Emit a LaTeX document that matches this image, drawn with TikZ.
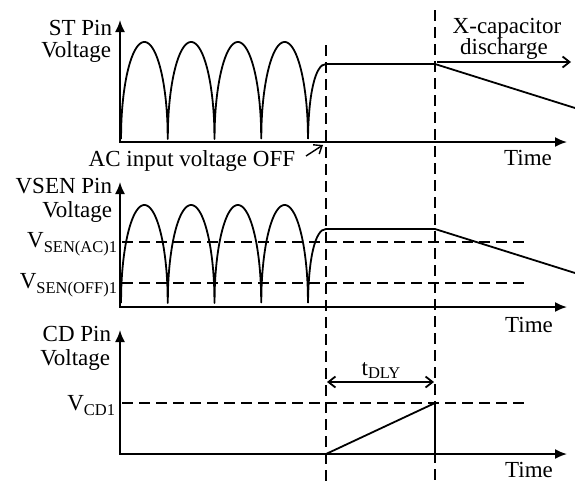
\documentclass[tikz,border=0pt]{standalone}
\usepackage{fontspec}
\setmainfont{Liberation Serif}
\usetikzlibrary{arrows.meta}
\newcommand\subt[2][-5pt]{\raisebox{#1}{\fontsize{16.5}{16.5}\selectfont #2}}
\begin{document}
\begin{tikzpicture}[x=1pt,y=-1pt,line width=1.8pt,
  lbl/.style={inner sep=0pt,anchor=base east,font=\fontsize{23}{23}\selectfont},
  txt/.style={inner sep=0pt,anchor=base,font=\fontsize{23}{23}\selectfont},
  axes/.style={{Latex[length=12pt,width=10pt]}-{Latex[length=12pt,width=10pt]}},
  dsh/.style={dash pattern=on 11pt off 6pt},
  openarr/.style={-{Straight Barb[length=7pt,width=11pt]}},
  dblarr/.style={{Straight Barb[length=7pt,width=11pt]}-{Straight Barb[length=7pt,width=11pt]}},
  hump/.style={line join=round},
]
\useasboundingbox (0,0) rectangle (575,483);

% ---------- dashed markers (vertical) ----------
\coordinate (v1t) at (326,45);  \coordinate (v1b) at (326,483);
\coordinate (v2t) at (435,10);  \coordinate (v2b) at (435,483);
\draw[dsh] (v1t) -- (v1b);
\draw[dsh] (v2t) -- (v2b);

% ---------- Panel 1 : ST pin ----------
\coordinate (y1) at (120,20);
\coordinate (x1) at (567,142);
\draw[axes] (y1) |- (x1);
\draw[hump] plot[domain=121:308,samples=801] (\x,{139-97*sqrt(max(0,1-(mod(\x-121,46.75)/23.375-1)^2))});
\coordinate (p1s) at (308,139);
\coordinate (p1a) at (326,64);
\coordinate (p1b) at (435,64);
\coordinate (p1c) at (575,108);
\draw (p1s) .. controls (308.5,95) and (315,64) .. (p1a) -- (p1b) -- (p1c);
\coordinate (xa1) at (437,62);
\coordinate (xa2) at (571,62);
\draw[openarr] (xa1) -- (xa2);
\node[txt] (xc1) at (507,33) {X-capacitor};
\node[txt] (xc2) at (504,54) {discharge};
\node[lbl] (st1) at (113,35) {ST Pin};
\node[lbl] (st2) at (112,57) {Voltage};
\node[txt] (tm1) at (528,165) {Time};
\node[lbl] (ac) at (296,166) {AC input voltage OFF};
\coordinate (aca) at (306,156);
\coordinate (acb) at (323,145);
\draw[openarr,line width=1.4pt] (aca) -- (acb);

% ---------- Panel 2 : VSEN pin ----------
\coordinate (y2) at (120,182);
\coordinate (x2) at (567,307);
\coordinate (h1a) at (122,242); \coordinate (h1b) at (530,242);
\coordinate (h2a) at (122,283); \coordinate (h2b) at (530,283);
\draw[dsh] (h1a) -- (h1b);
\draw[dsh] (h2a) -- (h2b);
\draw[axes] (y2) |- (x2);
\draw[hump] plot[domain=121:308,samples=801] (\x,{303-98*sqrt(max(0,1-(mod(\x-121,46.75)/23.375-1)^2))});
\coordinate (p2s) at (308,303);
\coordinate (p2a) at (326,229);
\coordinate (p2b) at (435,229);
\coordinate (p2c) at (575,273);
\draw (p2s) .. controls (308.5,259) and (315,229) .. (p2a) -- (p2b) -- (p2c);
\node[lbl] (vs1) at (113,193) {VSEN Pin};
\node[lbl] (vs2) at (113,217) {Voltage};
\node[lbl] (vac) at (118,247) {V\subt{SEN(AC)1}};
\node[lbl] (voff) at (118,288) {V\subt{SEN(OFF)1}};
\node[txt] (tm2) at (529,332) {Time};

% ---------- Panel 3 : CD pin ----------
\coordinate (y3) at (120,330);
\coordinate (x3) at (567,454);
\coordinate (h3a) at (122,403); \coordinate (h3b) at (530,403);
\draw[dsh] (h3a) -- (h3b);
\draw[axes] (y3) |- (x3);
\coordinate (r0) at (326,454);
\coordinate (r1) at (435,403);
\coordinate (r2) at (435,454);
\draw (r0) -- (r1) -- (r2);
\coordinate (ta) at (327,382);
\coordinate (tb) at (434,382);
\draw[dblarr] (ta) -- (tb);
\node[txt] (tdly) at (381,375) {t\subt[-3pt]{DLY}};
\node[lbl] (cd1) at (112,341) {CD Pin};
\node[lbl] (cd2) at (111,365) {Voltage};
\node[lbl] (vcd) at (116,410) {V\subt{CD1}};
\node[txt] (tm3) at (529,477) {Time};
\end{tikzpicture}
\end{document}
